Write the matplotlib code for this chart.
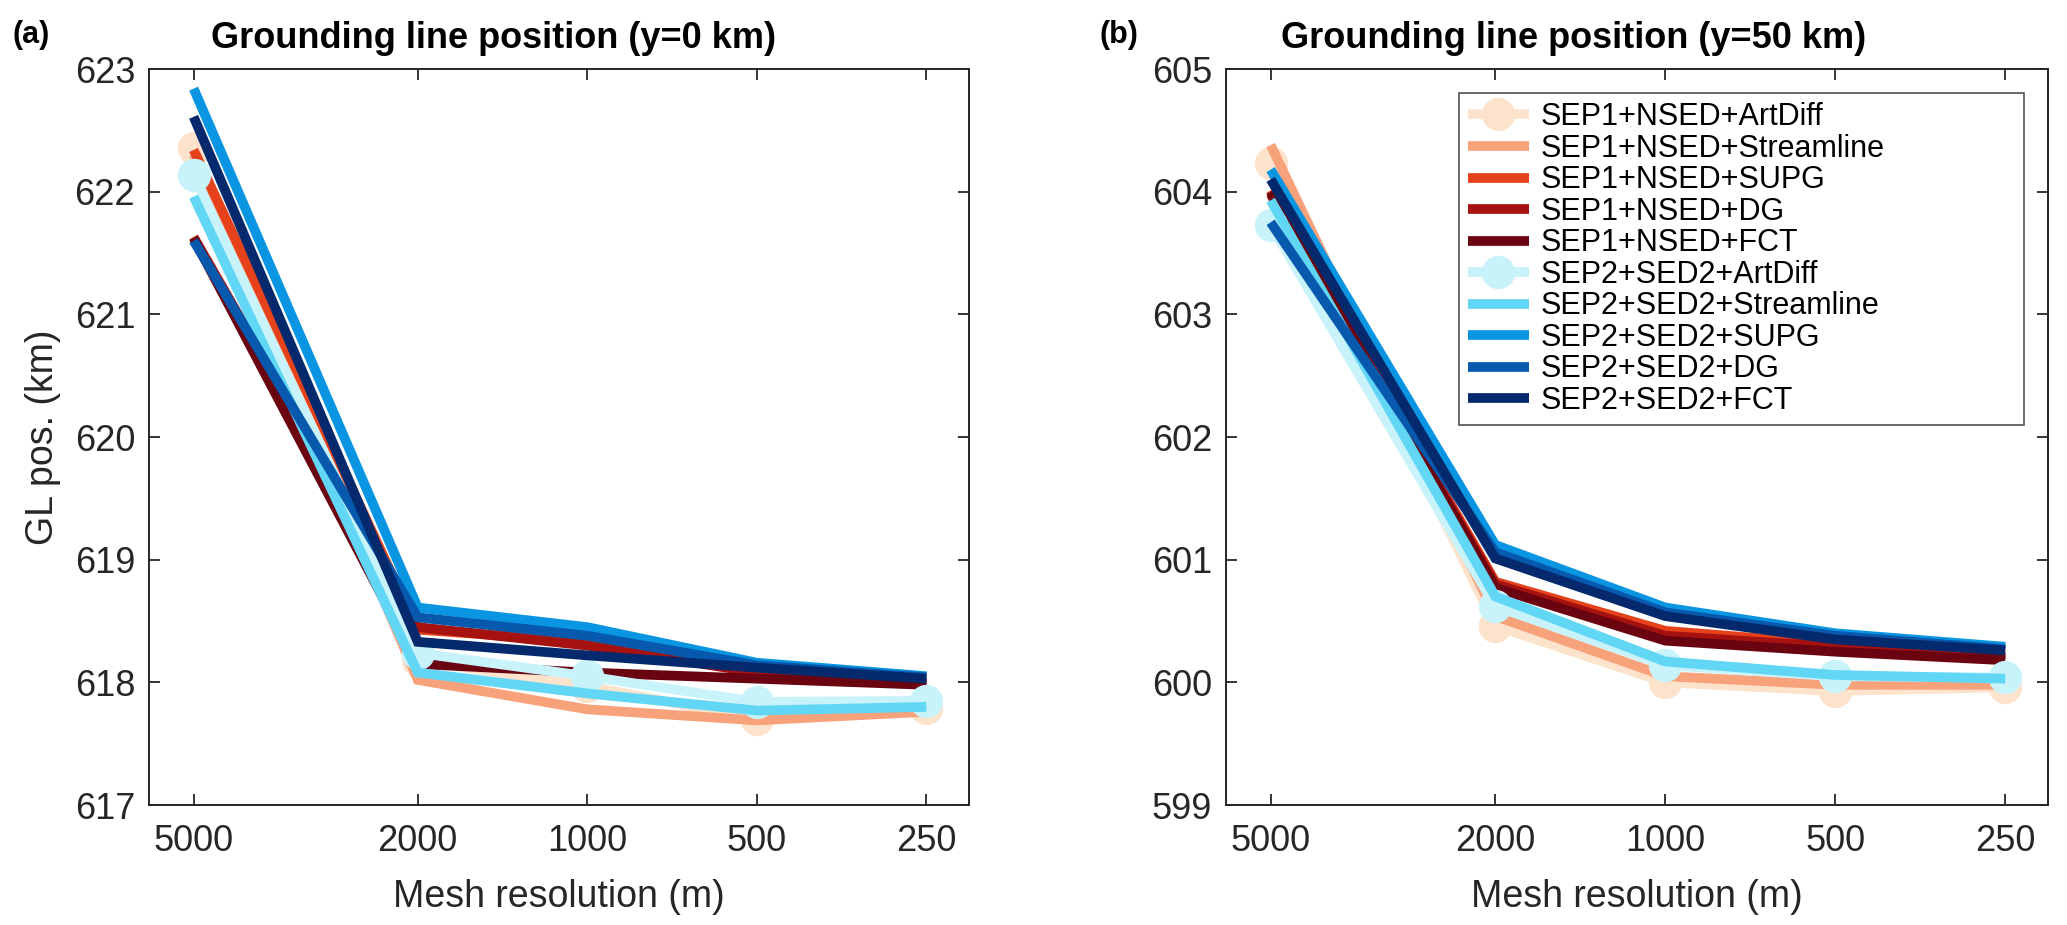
import matplotlib
matplotlib.use("Agg")
import matplotlib.pyplot as plt

plt.rcParams['font.family'] = ['Liberation Sans', 'DejaVu Sans']

res = [5000, 2000, 1000, 500, 250]
res_labels = ['5000', '2000', '1000', '500', '250']

names = ['SEP1+NSED+ArtDiff', 'SEP1+NSED+Streamline', 'SEP1+NSED+SUPG',
         'SEP1+NSED+DG', 'SEP1+NSED+FCT',
         'SEP2+SED2+ArtDiff', 'SEP2+SED2+Streamline', 'SEP2+SED2+SUPG',
         'SEP2+SED2+DG', 'SEP2+SED2+FCT']
colors = ['#fde2cc', '#f8a27c', '#e5411a', '#a5120f', '#6a0410',
          '#c8f3fb', '#62d6f5', '#0995e2', '#0659ad', '#05296d']

# grounding line position at y=0 km
gl_a_sep1_artdiff = [622.36, 618.18, 617.97, 617.70, 617.79]
gl_a_sep1_stream = [622.30, 618.02, 617.78, 617.69, 617.76]
gl_a_sep1_supg = [622.34, 618.43, 618.33, 618.10, 618.00]
gl_a_sep1_dg = [621.63, 618.45, 618.30, 618.08, 617.99]
gl_a_sep1_fct = [621.62, 618.15, 618.08, 618.03, 617.98]
gl_a_sep2_artdiff = [622.14, 618.24, 618.05, 617.84, 617.85]
gl_a_sep2_stream = [621.96, 618.08, 617.91, 617.77, 617.80]
gl_a_sep2_supg = [622.84, 618.61, 618.45, 618.16, 618.05]
gl_a_sep2_dg = [621.60, 618.53, 618.38, 618.14, 618.04]
gl_a_sep2_fct = [622.61, 618.33, 618.22, 618.12, 618.03]

# grounding line position at y=50 km
gl_b_sep1_artdiff = [604.23, 600.46, 600.00, 599.93, 599.96]
gl_b_sep1_stream = [604.38, 600.54, 600.05, 599.98, 599.98]
gl_b_sep1_supg = [604.01, 600.82, 600.42, 600.31, 600.21]
gl_b_sep1_dg = [603.98, 600.80, 600.38, 600.29, 600.20]
gl_b_sep1_fct = [604.00, 600.77, 600.34, 600.25, 600.18]
gl_b_sep2_artdiff = [603.73, 600.62, 600.14, 600.05, 600.04]
gl_b_sep2_stream = [603.93, 600.70, 600.17, 600.06, 600.03]
gl_b_sep2_supg = [604.18, 601.12, 600.61, 600.40, 600.29]
gl_b_sep2_dg = [603.75, 601.06, 600.57, 600.38, 600.27]
gl_b_sep2_fct = [604.10, 601.01, 600.54, 600.35, 600.26]

series_a = [gl_a_sep1_artdiff, gl_a_sep1_stream, gl_a_sep1_supg, gl_a_sep1_dg, gl_a_sep1_fct,
            gl_a_sep2_artdiff, gl_a_sep2_stream, gl_a_sep2_supg, gl_a_sep2_dg, gl_a_sep2_fct]
series_b = [gl_b_sep1_artdiff, gl_b_sep1_stream, gl_b_sep1_supg, gl_b_sep1_dg, gl_b_sep1_fct,
            gl_b_sep2_artdiff, gl_b_sep2_stream, gl_b_sep2_supg, gl_b_sep2_dg, gl_b_sep2_fct]

fig = plt.figure(figsize=(20.67, 9.25), dpi=100)
ax1 = fig.add_axes([0.0721, 0.1297, 0.3967, 0.7957])
ax2 = fig.add_axes([0.5931, 0.1297, 0.3977, 0.7957])

lw = 7
for ax, series, ylo in [(ax1, series_a, 617), (ax2, series_b, 599)]:
    for vals, c, nm in zip(series, colors, names):
        if 'ArtDiff' in nm:
            ax.plot(res, vals, color=c, lw=lw, marker='o', ms=23, mec=c, mfc=c,
                    solid_capstyle='butt', solid_joinstyle='miter', label=nm)
        else:
            ax.plot(res, vals, color=c, lw=lw, solid_capstyle='butt',
                    solid_joinstyle='miter', label=nm)
    ax.set_xscale('log')
    ax.set_xlim(6000, 210)
    ax.set_xticks(res)
    ax.set_xticklabels(res_labels)
    ax.minorticks_off()
    ax.set_ylim(ylo, ylo + 6)
    ax.set_yticks(range(ylo, ylo + 7))
    ax.tick_params(direction='in', length=8, width=1.3, labelsize=26, colors='#262626',
                   top=True, right=True, pad=10)
    ax.tick_params(axis='x', pad=14)
    for s in ax.spines.values():
        s.set_color('#262626')
        s.set_linewidth(1.4)
    ax.set_xlabel('Mesh resolution (m)', fontsize=27, color='#262626', labelpad=14)

ax1.set_ylabel('GL pos. (km)', fontsize=27, color='#262626', labelpad=10)

fig.text(0.0721 + 0.42 * 0.3967, 0.958, 'Grounding line position (y=0 km)',
         ha='center', va='center', fontsize=26, fontweight='bold')
fig.text(0.5931 + 0.423 * 0.3977, 0.958, 'Grounding line position (y=50 km)',
         ha='center', va='center', fontsize=26, fontweight='bold')
fig.text(0.006, 0.962, '(a)', fontsize=22, fontweight='bold', va='center')
fig.text(0.532, 0.962, '(b)', fontsize=22, fontweight='bold', va='center')

leg = ax2.legend(loc='upper left', bbox_to_anchor=(0.283, 0.0, 0.688, 1 - 24 / 736),
                 mode='expand', borderaxespad=0, fontsize=22, frameon=True,
                 fancybox=False, edgecolor='#262626', labelspacing=0.05,
                 handlelength=2.0, handletextpad=0.4, borderpad=0.3, numpoints=1)
leg.get_frame().set_linewidth(1.2)

fig.savefig('out.png', dpi=100)
